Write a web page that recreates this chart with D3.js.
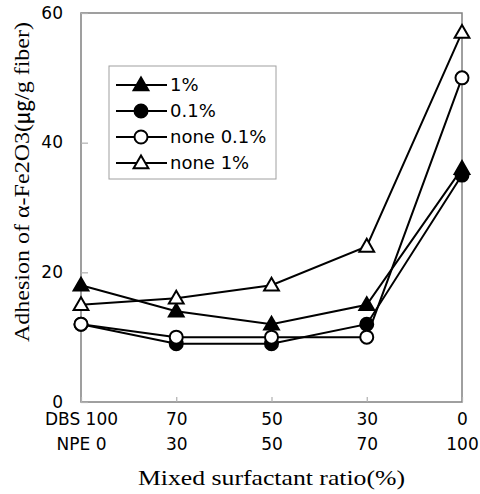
<!doctype html>
<html>
	<head>
		<meta charset="utf-8">
		<title>Adhesion of a-Fe2O3 vs mixed surfactant ratio</title>
		<script src="https://d3js.org/d3.v7.min.js"></script>
		<style>
		body { margin: 0; background: #fff; }
		svg { display: block; }
		.tick-label { font-family: "DejaVu Sans", sans-serif; font-size: 17px; fill: #000; }
		.title { font-family: "Liberation Serif", "Noto Sans CJK KR", serif; font-size: 21px; fill: #000; }
		.legend-text { font-family: "DejaVu Sans", sans-serif; font-size: 18px; fill: #000; }
		</style>
	</head>
	<body>
		<svg id="chart" width="480" height="494"></svg>
		<script>
		// x categories: DBS / NPE ratio (%)
		var dbsLabels = ["DBS 100", "70", "50", "30", "0"];
		var npeLabels = ["NPE 0", "30", "50", "70", "100"];

		var vals1pct     = [18, 14, 12, 15, 36];
		var vals01pct    = [12, 9, 9, 12, 35];
		var valsNone01   = [12, 10, 10, 10, 50];
		var valsNone1    = [15, 16, 18, 24, 57];

		var yTicks = [0, 20, 40, 60];

		var svg = d3.select("#chart");
		var margin = {top: 13, right: 18, bottom: 92, left: 81};
		var width = 480 - margin.left - margin.right;
		var height = 494 - margin.top - margin.bottom;

		var g = svg.append("g").attr("transform", "translate(" + margin.left + "," + margin.top + ")");

		var x = d3.scalePoint().domain(d3.range(dbsLabels.length)).range([0, width]);
		var y = d3.scaleLinear().domain([0, 60]).range([height, 0]);

		// frame
		g.append("rect")
			.attr("width", width).attr("height", height)
			.attr("fill", "none").attr("stroke", "#808080").attr("stroke-width", 1.5);

		// y axis, ticks inside
		var yAxis = g.append("g")
			.call(d3.axisLeft(y).tickValues(yTicks).tickSize(-7).tickPadding(18));
		yAxis.select(".domain").remove();
		yAxis.selectAll("line").attr("stroke", "#b0b0b0").attr("stroke-width", 1.2);
		yAxis.selectAll("text").attr("class", "tick-label").attr("dy", "0.3em");

		// x axis, ticks inside, two label rows
		var xAxis = g.append("g")
			.attr("transform", "translate(0," + height + ")")
			.call(d3.axisBottom(x).tickSize(-5).tickPadding(11).tickFormat(function(i) { return dbsLabels[i]; }));
		xAxis.select(".domain").remove();
		xAxis.selectAll("line").attr("stroke", "#b0b0b0").attr("stroke-width", 1.2);
		xAxis.selectAll("text").attr("class", "tick-label");
		xAxis.selectAll(".tick").append("text")
			.attr("class", "tick-label")
			.attr("text-anchor", "middle")
			.attr("y", 48)
			.text(function(i) { return npeLabels[i]; });

		// axis titles
		svg.append("text")
			.attr("class", "title")
			.attr("x", margin.left + width / 2)
			.attr("y", 485)
			.attr("text-anchor", "middle")
			.attr("textLength", 267)
			.attr("lengthAdjust", "spacingAndGlyphs")
			.text("Mixed  surfactant ratio(%)");

		svg.append("text")
			.attr("class", "title")
			.attr("transform", "translate(29,182) rotate(-90)")
			.attr("text-anchor", "middle")
			.attr("textLength", 320)
			.attr("lengthAdjust", "spacingAndGlyphs")
			.text("Adhesion of  α-Fe2O3(㎍/g fiber)");

		var triangle = d3.symbol().type(d3.symbolTriangle).size(95);

		var series = [
			{name: "0.1%", values: vals01pct, shape: "circle", fill: "#000"},
			{name: "1%", values: vals1pct, shape: "triangle", fill: "#000"},
			{name: "none 0.1%", values: valsNone01, shape: "circle", fill: "#fff"},
			{name: "none 1%", values: valsNone1, shape: "triangle", fill: "#fff"}
		];

		var line = d3.line()
			.x(function(d, i) { return x(i); })
			.y(function(d) { return y(d); });

		function drawMarker(sel, s) {
			if (s.shape === "circle") {
				sel.append("circle").attr("r", 6.5)
					.attr("fill", s.fill).attr("stroke", "#000").attr("stroke-width", 2);
			} else {
				sel.append("path").attr("d", triangle).attr("transform", "translate(0,1)")
					.attr("fill", s.fill).attr("stroke", "#000").attr("stroke-width", 2);
			}
		}

		series.forEach(function(s) {
			g.append("path")
				.datum(s.values)
				.attr("d", line)
				.attr("fill", "none")
				.attr("stroke", "#000")
				.attr("stroke-width", 2);
		});

		series.forEach(function(s) {
			g.selectAll(null)
				.data(s.values)
				.enter().append("g")
				.attr("transform", function(d, i) { return "translate(" + x(i) + "," + y(d) + ")"; })
				.each(function() { drawMarker(d3.select(this), s); });
		});

		// legend
		var legendOrder = ["1%", "0.1%", "none 0.1%", "none 1%"];
		var legend = svg.append("g").attr("transform", "translate(109,66)");
		legend.append("rect")
			.attr("width", 167).attr("height", 113)
			.attr("fill", "#fff").attr("stroke", "#a0a0a0").attr("stroke-width", 1);

		legendOrder.forEach(function(name, k) {
			var s = series.filter(function(d) { return d.name === name; })[0];
			var row = legend.append("g").attr("transform", "translate(0," + (19 + k * 26) + ")");
			row.append("line")
				.attr("x1", 7).attr("x2", 58)
				.attr("stroke", "#000").attr("stroke-width", 2);
			drawMarker(row.append("g").attr("transform", "translate(32,0)"), s);
			row.append("text")
				.attr("class", "legend-text")
				.attr("x", 61)
				.attr("dy", "0.35em")
				.text(name);
		});
		</script>
	</body>
</html>
